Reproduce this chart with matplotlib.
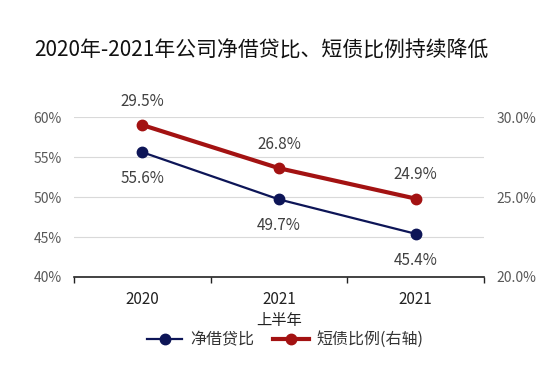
import matplotlib.pyplot as plt
import numpy as np

plt.rcParams['font.family'] = ['Noto Sans CJK SC', 'DejaVu Sans']

# data
categories = ['2020', '2021\n上半年', '2021']
net_debt = [55.6, 49.7, 45.4]       # 净借贷比 (left axis)
short_debt = [29.5, 26.8, 24.9]     # 短债比例 (right axis)

blue = '#0d1557'
red = '#a31212'

fig = plt.figure(figsize=(5.54, 3.72), dpi=100)
ax = fig.add_axes([0.1336, 0.2554, 0.74, 0.43])
ax2 = ax.twinx()

x = np.arange(len(categories))

l1, = ax.plot(x, net_debt, color=blue, lw=1.6, marker='o', ms=7.5, label='净借贷比', clip_on=False, zorder=3)
l2, = ax2.plot(x, short_debt, color=red, lw=3, marker='o', ms=7.5, label='短债比例(右轴)', clip_on=False, zorder=3)

ax.set_xlim(-0.5, 2.5)
ax.set_ylim(40, 60)
ax2.set_ylim(20, 30)
ax.set_yticks([40, 45, 50, 55, 60])
ax.set_yticklabels([f'{v}%' for v in [40, 45, 50, 55, 60]])
ax2.set_yticks([20, 25, 30])
ax2.set_yticklabels([f'{v:.1f}%' for v in [20, 25, 30]])

ax.grid(axis='y', color='#d9d9d9', lw=0.8)
ax.set_axisbelow(True)
for a in (ax, ax2):
    for s in ['top', 'left', 'right']:
        a.spines[s].set_visible(False)
    a.tick_params(axis='y', length=0, labelsize=10, labelcolor='#595959', pad=9)
ax2.spines['bottom'].set_visible(False)
ax.spines['bottom'].set_color('#222222')
ax.spines['bottom'].set_linewidth(1.2)

ax.set_xticks(x)
ax.set_xticklabels(categories, fontsize=11, color='#222222', linespacing=1.3, va='top')
ax.tick_params(axis='x', length=0, pad=10)
ax.set_xticks([-0.5, 0.5, 1.5, 2.5], minor=True)
ax.tick_params(axis='x', which='minor', length=4, width=1, color='#222222', direction='out')

# data labels
for xi, v in zip(x, net_debt):
    ax.annotate(f'{v}%', (xi, v), xytext=(0, -19), textcoords='offset points',
                ha='center', va='center', fontsize=11, color='#404040')
for xi, v in zip(x, short_debt):
    ax2.annotate(f'{v}%', (xi, v), xytext=(0, 17), textcoords='offset points',
                 ha='center', va='center', fontsize=11, color='#404040')

fig.legend(handles=[l1, l2], loc='center', bbox_to_anchor=(0.515, 0.087), ncol=2,
           frameon=False, fontsize=11.5, handlelength=2.2, columnspacing=1.2,
           handletextpad=0.5, labelcolor='#333333')

fig.text(0.472, 0.865, '2020年-2021年公司净借贷比、短债比例持续降低', ha='center', va='center',
         fontsize=15, fontweight='medium', color='#111111')

fig.savefig('out.png', dpi=100)
